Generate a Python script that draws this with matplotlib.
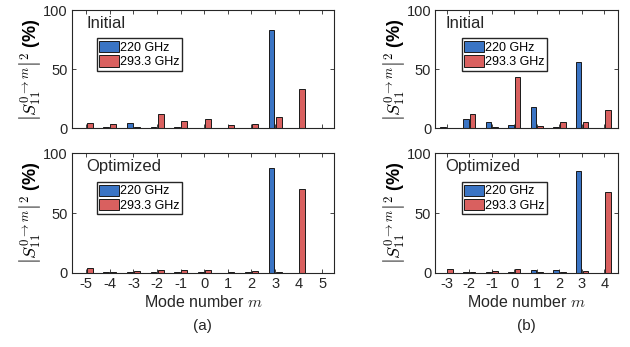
import numpy as np
import matplotlib
matplotlib.use("Agg")
import matplotlib.pyplot as plt

plt.rcParams["font.family"] = ["Liberation Sans", "DejaVu Sans"]
plt.rcParams["mathtext.fontset"] = "cm"

# mode numbers
modes_a = [-5, -4, -3, -2, -1, 0, 1, 2, 3, 4, 5]
modes_b = [-3, -2, -1, 0, 1, 2, 3, 4]

# (a) initial / optimized, 220 GHz and 293.3 GHz
a_init_220 = [0.2, 0.8, 4.2, 0.8, 1.4, 0.5, 0.3, 0.3, 83.1, 0.1, 0.1]
a_init_293 = [4.2, 3.4, 1.1, 12.4, 5.9, 7.9, 2.8, 3.4, 9.3, 33.7, 0.1]
a_opt_220 = [0.2, 0.8, 0.8, 0.5, 0.5, 0.5, 0.2, 0.5, 87.8, 0.1, 0.1]
a_opt_293 = [3.9, 0.6, 1.6, 2.6, 1.9, 1.9, 0.3, 1.5, 0.3, 70.3, 0.2]

# (b)
b_init_220 = [1.1, 7.8, 5.0, 2.5, 17.9, 1.1, 56.1, 0.1]
b_init_293 = [0.6, 12.0, 0.8, 43.3, 1.7, 5.3, 5.6, 15.6]
b_opt_220 = [0.2, 0.5, 0.8, 0.5, 2.5, 1.9, 85.3, 0.1]
b_opt_293 = [3.1, 0.8, 1.4, 2.8, 0.8, 0.5, 1.1, 67.8]

blue = "#3a74c4"
red = "#d9605f"
ylab = r"$\left|S_{11}^{0\rightarrow m}\right|^2$ (%)"

fig = plt.figure(figsize=(6.3, 3.47), dpi=100)

def panel(rect, modes, v220, v293, title, xlim, leg_x, show_x):
    ax = fig.add_axes(rect)
    x = np.array(modes)
    ax.bar(x - 0.15, v220, width=0.25, color=blue, edgecolor="#1a1a1a", linewidth=0.7, label="220 GHz")
    ax.bar(x + 0.15, v293, width=0.25, color=red, edgecolor="#1a1a1a", linewidth=0.7, label="293.3 GHz")
    ax.set_xlim(*xlim)
    ax.set_ylim(0, 100)
    ax.set_yticks([0, 50, 100])
    ax.set_xticks(modes)
    ax.tick_params(direction="in", top=True, right=True, length=3, labelsize=10.5,
                   colors="#262626", width=0.6, pad=3)
    for s in ax.spines.values():
        s.set_color("#262626")
        s.set_linewidth(0.8)
    if not show_x:
        ax.set_xticklabels([])
    else:
        ax.set_xticklabels([str(m) for m in modes])
        ax.set_xlabel("Mode number $m$", fontsize=11.5, color="#262626", labelpad=2)
    ax.set_ylabel(ylab, fontsize=13, fontweight="bold", labelpad=0)
    ax.text(0.055, 0.89, title, transform=ax.transAxes, fontsize=12, va="center", color="#262626")
    ax.legend(loc="upper left", bbox_to_anchor=(leg_x, 0.76), fontsize=9, frameon=True,
              fancybox=False, edgecolor="#262626", framealpha=1, borderaxespad=0,
              borderpad=0.2, handletextpad=0.1, labelspacing=0.12, handlelength=1.55,
              handleheight=1.0)
    return ax

panel([0.1143, 0.630, 0.416, 0.341], modes_a, a_init_220, a_init_293, "Initial", (-5.6, 5.5), 0.095, False)
panel([0.1143, 0.214, 0.416, 0.344], modes_a, a_opt_220, a_opt_293, "Optimized", (-5.6, 5.5), 0.095, True)
panel([0.691, 0.630, 0.290, 0.341], modes_b, b_init_220, b_init_293, "Initial", (-3.5, 4.6), 0.144, False)
panel([0.691, 0.214, 0.290, 0.344], modes_b, b_opt_220, b_opt_293, "Optimized", (-3.5, 4.6), 0.144, True)

fig.text(0.322, 0.06, "(a)", ha="center", va="center", fontsize=11, color="#262626")
fig.text(0.836, 0.06, "(b)", ha="center", va="center", fontsize=11, color="#262626")

fig.savefig("out.png", dpi=100)
